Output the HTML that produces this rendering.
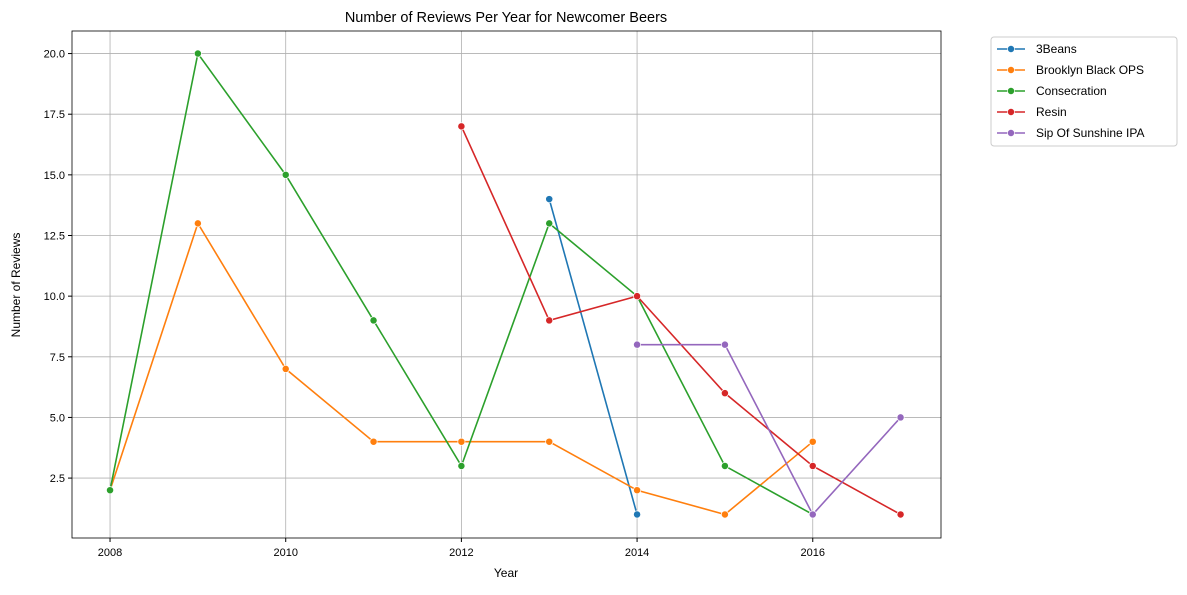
<!DOCTYPE html>
<html><head><meta charset="utf-8"><style>
body{margin:0;background:#fff;font-family:"Liberation Sans","DejaVu Sans",sans-serif;}
svg text{font-family:"Liberation Sans","DejaVu Sans",sans-serif;}
</style></head><body>
<svg id="chart" width="1187" height="590">
<rect x="0" y="0" width="1187" height="590" fill="#fff"/>
<g id="grid"></g>
<g id="series"></g>
<rect x="72" y="31" width="869" height="507" fill="none" stroke="#000" stroke-width="0.8"/>
<g id="ticks"></g>
<text x="506" y="22" text-anchor="middle" font-size="14.5">Number of Reviews Per Year for Newcomer Beers</text>
<text x="506" y="577" text-anchor="middle" font-size="12">Year</text>
<text x="20" y="285" text-anchor="middle" font-size="12" transform="rotate(-90 20 285)">Number of Reviews</text>
<g id="legend"></g>
</svg>
<script>
const seriesNames=["3Beans","Brooklyn Black OPS","Consecration","Resin","Sip Of Sunshine IPA"];
const colors=["#1f77b4","#ff7f0e","#2ca02c","#d62728","#9467bd"];
const years3Beans=[2013,2014];
const vals3Beans=[14,1];
const yearsBrooklyn=[2008,2009,2010,2011,2012,2013,2014,2015,2016];
const valsBrooklyn=[2,13,7,4,4,4,2,1,4];
const yearsConsecration=[2008,2009,2010,2011,2012,2013,2014,2015,2016];
const valsConsecration=[2,20,15,9,3,13,10,3,1];
const yearsResin=[2012,2013,2014,2015,2016,2017];
const valsResin=[17,9,10,6,3,1];
const yearsSip=[2014,2015,2016,2017];
const valsSip=[8,8,1,5];
const xTicks=[2008,2010,2012,2014,2016];
const yTicks=[2.5,5,7.5,10,12.5,15,17.5,20];
const NS="http://www.w3.org/2000/svg";
const L=72,R=941,T=31,B=538,x0=2007.567,x1=2017.46,y0=0.03,y1=20.93;
const X=v=>L+(v-x0)/(x1-x0)*(R-L);
const Y=v=>B-(v-y0)/(y1-y0)*(B-T);
function mk(tag,attrs,parent){const e=document.createElementNS(NS,tag);for(const k in attrs)e.setAttribute(k,attrs[k]);parent.appendChild(e);return e;}
const grid=document.getElementById('grid'),ticks=document.getElementById('ticks');
xTicks.forEach(t=>{
 const g=mk('line',{x1:X(t),x2:X(t),y1:T,y2:B,stroke:'#b0b0b0','stroke-width':0.8},grid);
 
 
 mk('line',{x1:X(t),x2:X(t),y1:B,y2:B+4,stroke:'#000'},ticks);
 const tx=mk('text',{x:X(t),y:B+18,'text-anchor':'middle','font-size':11},ticks);tx.textContent=t;
 
 
});
yTicks.forEach(t=>{
 const g=mk('line',{x1:L,x2:R,y1:Y(t),y2:Y(t),stroke:'#b0b0b0','stroke-width':0.8},grid);
 
 
 mk('line',{x1:L-4,x2:L,y1:Y(t),y2:Y(t),stroke:'#000'},ticks);
 const tx=mk('text',{x:L-7,y:Y(t)+4,'text-anchor':'end','font-size':11},ticks);tx.textContent=t.toFixed(1);
 
 
});
const data=[[years3Beans,vals3Beans],[yearsBrooklyn,valsBrooklyn],[yearsConsecration,valsConsecration],[yearsResin,valsResin],[yearsSip,valsSip]];
const sg=document.getElementById('series');
data.forEach((d,i)=>{
 const pts=d[0].map((yr,j)=>X(yr)+','+Y(d[1][j])).join(' ');
 const pl=mk('polyline',{points:pts,fill:'none',stroke:colors[i],'stroke-width':1.6},sg);
 
 
 d[0].forEach((yr,j)=>{
  const c=mk('circle',{cx:X(yr),cy:Y(d[1][j]),r:3.6,fill:colors[i],stroke:'#fff','stroke-width':0.7},sg);
  
  
 });
});
const lg=document.getElementById('legend');
const box=mk('rect',{x:991,y:37,width:186,height:109,rx:3,fill:'#fff',stroke:'#ccc'},lg);


seriesNames.forEach((n,i)=>{
 const y=49+i*21;
 mk('line',{x1:997,x2:1025,y1:y,y2:y,stroke:colors[i],'stroke-width':1.6},lg);
 mk('circle',{cx:1011,cy:y,r:3.6,fill:colors[i],stroke:'#fff','stroke-width':0.7},lg);
 const t=mk('text',{x:1036,y:y+4,'font-size':12},lg);t.textContent=n;
 
 
});
</script>
</body></html>
